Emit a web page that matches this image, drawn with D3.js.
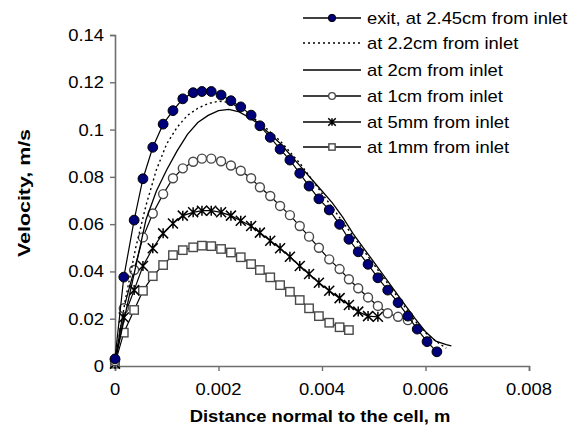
<!DOCTYPE html>
<html><head><meta charset="utf-8">
<script src="https://cdn.jsdelivr.net/npm/d3@7"></script>
<style>body{margin:0;background:#fff}svg{display:block}text{font-family:"Liberation Sans",Arial,sans-serif;fill:#000}</style>
</head><body><svg id="c" width="578" height="433"></svg>
<script>
// ---- data ----
const xTicks = [0, 0.002, 0.004, 0.006, 0.008];
const xTickLabels = ["0", "0.002", "0.004", "0.006", "0.008"];
const yTicks = [0, 0.02, 0.04, 0.06, 0.08, 0.1, 0.12, 0.14];
const yTickLabels = ["0", "0.02", "0.04", "0.06", "0.08", "0.1", "0.12", "0.14"];

// x positions of the marked points
const X = [0, 0.00017, 0.00037, 0.00054, 0.00073, 0.00093, 0.00112, 0.00131, 0.00151, 0.00168,
  0.00186, 0.00205, 0.00224, 0.00243, 0.00263, 0.0028, 0.003, 0.00319, 0.00338, 0.00357,
  0.00375, 0.00394, 0.00414, 0.00434, 0.00452, 0.0047, 0.00489, 0.00508, 0.00527, 0.00547,
  0.00566, 0.00584, 0.00603, 0.00622];
const exitV = [0.003, 0.0376, 0.0617, 0.0792, 0.0925, 0.1023, 0.108, 0.113, 0.1156, 0.1161,
  0.1161, 0.1146, 0.1122, 0.1096, 0.1061, 0.1016, 0.0967, 0.0917, 0.0871, 0.0815,
  0.0761, 0.0707, 0.066, 0.0599, 0.0536, 0.0483, 0.043, 0.0373, 0.0321, 0.0268,
  0.0211, 0.0156, 0.0103, 0.006];
const cm1V = [0.002, 0.0244, 0.0406, 0.0544, 0.0645, 0.0727, 0.0794, 0.0836, 0.0864, 0.0877,
  0.0877, 0.0866, 0.0848, 0.0826, 0.0794, 0.0756, 0.0719, 0.0677, 0.0638, 0.0592,
  0.0547, 0.05, 0.0451, 0.041, 0.0367, 0.0329, 0.029, 0.0254, 0.0223, 0.0208, 0.0194];
const mm5V = [0.001, 0.0205, 0.0321, 0.0423, 0.0498, 0.0561, 0.0603, 0.0636, 0.065, 0.0657,
  0.0657, 0.065, 0.0636, 0.0614, 0.0592, 0.0564, 0.053, 0.0498, 0.0462, 0.0423,
  0.0389, 0.0352, 0.0318, 0.0287, 0.0258, 0.023, 0.0211, 0.0208];
const mm1V = [0.001, 0.0141, 0.0237, 0.0318, 0.038, 0.0427, 0.0469, 0.049, 0.0502, 0.0509,
  0.0507, 0.0495, 0.048, 0.046, 0.0431, 0.0406, 0.0375, 0.0342, 0.0314, 0.0279,
  0.0244, 0.0211, 0.0183, 0.0164, 0.0152];

// unmarked lines
const cm22X = [0, 0.0002, 0.0004, 0.0006, 0.0008, 0.001, 0.0012, 0.0014, 0.0016, 0.0018,
  0.002, 0.0022, 0.0024, 0.0026, 0.0028, 0.003, 0.0032, 0.0034, 0.0036, 0.0038,
  0.004, 0.0042, 0.0044, 0.0046, 0.0048, 0.005, 0.0052, 0.0054, 0.0056, 0.0058,
  0.006, 0.0062, 0.0064];
const cm22V = [0.002, 0.028, 0.05, 0.068, 0.083, 0.094, 0.101, 0.106, 0.109, 0.111,
  0.112, 0.1115, 0.1095, 0.106, 0.103, 0.099, 0.095, 0.09, 0.085, 0.079,
  0.073, 0.067, 0.061, 0.055, 0.049, 0.043, 0.037, 0.031, 0.025, 0.019,
  0.014, 0.0105, 0.0075];
const cm2X = [0, 0.0002, 0.0004, 0.0006, 0.0008, 0.001, 0.0012, 0.0014, 0.0016, 0.0018,
  0.002, 0.0022, 0.0024, 0.0026, 0.0028, 0.003, 0.0032, 0.0034, 0.0036, 0.0038,
  0.004, 0.0042, 0.0044, 0.0046, 0.0048, 0.005, 0.0052, 0.0054, 0.0056, 0.0058,
  0.006, 0.0062, 0.0064, 0.0065];
const cm2V = [0.002, 0.022, 0.042, 0.062, 0.074, 0.083, 0.091, 0.098, 0.103, 0.106,
  0.108, 0.1085, 0.1075, 0.105, 0.102, 0.098, 0.094, 0.089, 0.084, 0.079,
  0.074, 0.069, 0.063, 0.056, 0.05, 0.044, 0.038, 0.032, 0.026, 0.02,
  0.0145, 0.0105, 0.009, 0.0085];

const legendLabels = ["exit, at 2.45cm from inlet", "at 2.2cm from inlet", "at 2cm from inlet",
  "at 1cm from inlet", "at 5mm from inlet", "at 1mm from inlet"];

// ---- drawing ----
const svg = d3.select("#c");
const SX = 1.15; // horizontal stretch of text, as in reference
const x = d3.scaleLinear().domain([0, 0.008]).range([115, 529]);
const y = d3.scaleLinear().domain([0, 0.14]).range([366, 35]);

function stext(g, tx, ty, str, anchor, size, weight) {
  return g.append("text").attr("transform", `translate(${tx},${ty}) scale(${SX},1)`)
    .attr("text-anchor", anchor).style("font-size", size + "px")
    .style("font-weight", weight || "normal").text(str);
}

const axisColor = "#6e6e6e";
const gx = svg.append("g").attr("transform", "translate(0,366)")
  .call(d3.axisBottom(x).tickValues(xTicks).tickSize(5).tickFormat(""));
const gy = svg.append("g").attr("transform", "translate(115,0)")
  .call(d3.axisLeft(y).tickValues(yTicks).tickSize(5).tickFormat(""));
[gx, gy].forEach(g => {
  g.select(".domain").attr("stroke", axisColor).attr("stroke-width", 1.6);
  g.selectAll(".tick line").attr("stroke", axisColor).attr("stroke-width", 1.4);
});

xTicks.forEach((t, i) => stext(svg, x(t), 395, xTickLabels[i], "middle", 16));
yTicks.forEach((t, i) => stext(svg, 104, y(t) + 6, yTickLabels[i], "end", 16));

stext(svg, 320, 422, "Distance normal to the cell, m", "middle", 16, "bold");
svg.append("text").attr("transform", "translate(30,193) rotate(-90)")
  .attr("text-anchor", "middle").style("font-size", "16px").style("font-weight", "bold")
  .attr("textLength", 128).attr("lengthAdjust", "spacingAndGlyphs").text("Velocity, m/s");

const line = d3.line().x(d => x(d[0])).y(d => y(d[1]));
const zipX = (xs, vs) => vs.map((v, i) => [xs[i], v]);

const plot = svg.append("g");
function drawLine(data, dash, w) {
  plot.append("path").datum(data).attr("d", line).attr("fill", "none")
    .attr("stroke", "#000").attr("stroke-width", w || 1.2)
    .attr("stroke-dasharray", dash || null);
}
function marker(g, type, cx, cy, s) {
  if (type === "dot") {
    g.append("circle").attr("cx", cx).attr("cy", cy).attr("r", 4.9 * s)
      .attr("fill", "#00007a").attr("stroke", "#000").attr("stroke-width", 1);
  } else if (type === "circle") {
    g.append("circle").attr("cx", cx).attr("cy", cy).attr("r", 4.5 * s)
      .attr("fill", "#fff").attr("stroke", "#4a4a4a").attr("stroke-width", 1.4);
  } else if (type === "square") {
    const h = 4.2 * s;
    g.append("rect").attr("x", cx - h).attr("y", cy - h).attr("width", 2 * h).attr("height", 2 * h)
      .attr("fill", "#fff").attr("stroke", "#4a4a4a").attr("stroke-width", 1.4);
  } else if (type === "star") {
    const h = 5 * s;
    g.append("path").attr("d",
      `M${cx - h},${cy - h}L${cx + h},${cy + h}M${cx - h},${cy + h}L${cx + h},${cy - h}M${cx},${cy - h}L${cx},${cy + h}`)
      .attr("stroke", "#000").attr("stroke-width", 1.5);
  }
}

// lower series first, exit on top
const marked = [
  {v: mm1V, type: "square"},
  {v: mm5V, type: "star"},
  {v: cm1V, type: "circle"}
];
marked.forEach(s => {
  const data = zipX(X, s.v);
  drawLine(data);
  data.forEach(d => marker(plot, s.type, x(d[0]), y(d[1]), 1));
});
drawLine(zipX(cm2X, cm2V), null, 1.3);
drawLine(zipX(cm22X, cm22V), "2,3", 1.4);
const exitData = zipX(X, exitV);
drawLine(exitData);
exitData.forEach(d => marker(plot, "dot", x(d[0]), y(d[1]), 1));

// legend
const legTypes = ["dot", "dotted", "solid", "circle", "star", "square"];
const legY = [18, 43, 70, 96, 122, 147];
const leg = svg.append("g");
legendLabels.forEach((lab, i) => {
  const ly = legY[i];
  leg.append("line").attr("x1", 303).attr("x2", 361).attr("y1", ly).attr("y2", ly)
    .attr("stroke", "#000").attr("stroke-width", 1.3)
    .attr("stroke-dasharray", legTypes[i] === "dotted" ? "2,3" : null);
  if (["dot", "circle", "star", "square"].includes(legTypes[i])) marker(leg, legTypes[i], 332, ly, 0.75);
  stext(leg, 367, ly + 6, lab, "start", 16);
});
</script></body></html>
